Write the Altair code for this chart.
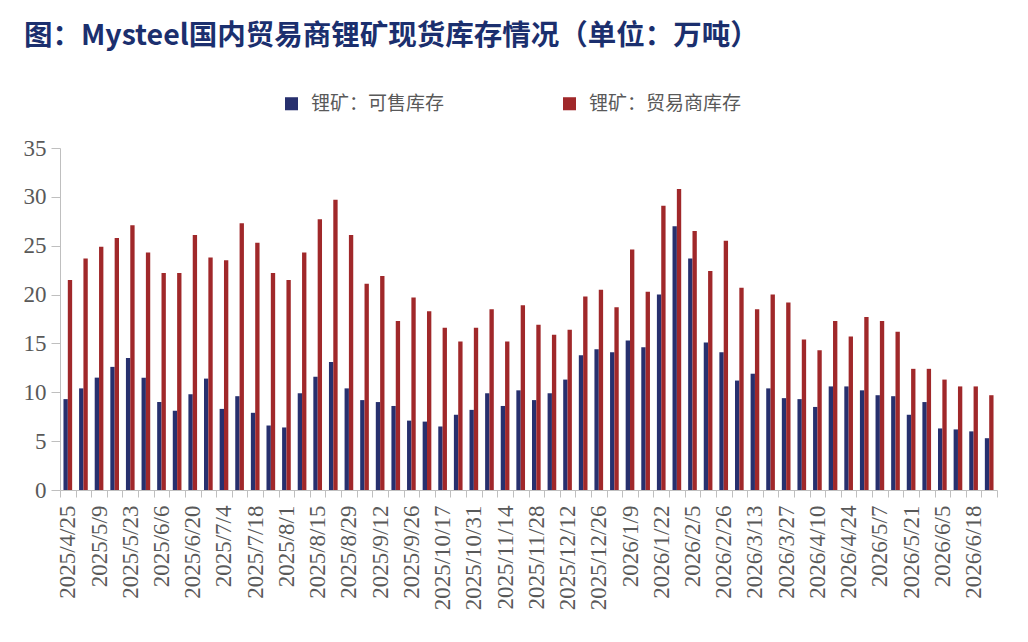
import altair as alt
import pandas as pd

dates = [
    "2025/4/25", "2025/4/30", "2025/5/9", "2025/5/16", "2025/5/23", "2025/5/30",
    "2025/6/6", "2025/6/13", "2025/6/20", "2025/6/27", "2025/7/4", "2025/7/11",
    "2025/7/18", "2025/7/25", "2025/8/1", "2025/8/8", "2025/8/15", "2025/8/22",
    "2025/8/29", "2025/9/5", "2025/9/12", "2025/9/19", "2025/9/26", "2025/10/10",
    "2025/10/17", "2025/10/24", "2025/10/31", "2025/11/7", "2025/11/14", "2025/11/21",
    "2025/11/28", "2025/12/5", "2025/12/12", "2025/12/19", "2025/12/26", "2025/12/31",
    "2026/1/9", "2026/1/16", "2026/1/22", "2026/1/29", "2026/2/5", "2026/2/12",
    "2026/2/26", "2026/3/6", "2026/3/13", "2026/3/20", "2026/3/27", "2026/4/3",
    "2026/4/10", "2026/4/17", "2026/4/24", "2026/4/30", "2026/5/7", "2026/5/14",
    "2026/5/21", "2026/5/28", "2026/6/5", "2026/6/11", "2026/6/18", "2026/6/25",
]

shown_labels = [
    "2025/4/25", "2025/5/9", "2025/5/23", "2025/6/6", "2025/6/20", "2025/7/4",
    "2025/7/18", "2025/8/1", "2025/8/15", "2025/8/29", "2025/9/12", "2025/9/26",
    "2025/10/17", "2025/10/31", "2025/11/14", "2025/11/28", "2025/12/12", "2025/12/26",
    "2026/1/9", "2026/1/22", "2026/2/5", "2026/2/26", "2026/3/13", "2026/3/27",
    "2026/4/10", "2026/4/24", "2026/5/7", "2026/5/21", "2026/6/5", "2026/6/18",
]

available = [
    9.3, 10.4, 11.5, 12.6, 13.5, 11.5, 9.0, 8.1, 9.8, 11.4,
    8.3, 9.6, 7.9, 6.6, 6.4, 9.9, 11.6, 13.1, 10.4, 9.2,
    9.0, 8.6, 7.1, 7.0, 6.5, 7.7, 8.2, 9.9, 8.6, 10.2,
    9.2, 9.9, 11.3, 13.8, 14.4, 14.1, 15.3, 14.6, 20.0, 27.0,
    23.7, 15.1, 14.1, 11.2, 11.9, 10.4, 9.4, 9.3, 8.5, 10.6,
    10.6, 10.2, 9.7, 9.6, 7.7, 9.0, 6.3, 6.2, 6.0, 5.3,
]

trader = [
    21.5, 23.7, 24.9, 25.8, 27.1, 24.3, 22.2, 22.2, 26.1, 23.8,
    23.5, 27.3, 25.3, 22.2, 21.5, 24.3, 27.7, 29.7, 26.1, 21.1,
    21.9, 17.3, 19.7, 18.3, 16.6, 15.2, 16.6, 18.5, 15.2, 18.9,
    16.9, 15.9, 16.4, 19.8, 20.5, 18.7, 24.6, 20.3, 29.1, 30.8,
    26.5, 22.4, 25.5, 20.7, 18.5, 20.0, 19.2, 15.4, 14.3, 17.3,
    15.7, 17.7, 17.3, 16.2, 12.4, 12.4, 11.3, 10.6, 10.6, 9.7,
]

series_names = ["锂矿：可售库存", "锂矿：贸易商库存"]
series_colors = ["#27306e", "#a0282a"]

rows = []
for d, a, t in zip(dates, available, trader):
    rows.append({"date": d, "series": series_names[0], "value": a})
    rows.append({"date": d, "series": series_names[1], "value": t})
df = pd.DataFrame(rows)

label_list = "[" + ",".join("'" + s + "'" for s in shown_labels) + "]"
label_expr = f"indexof({label_list}, datum.value) >= 0 ? datum.value : ''"

grey = "#bfbfbf"
text_grey = "#595959"

chart = (
    alt.Chart(df)
    .mark_bar()
    .encode(
        x=alt.X(
            "date:N",
            sort=dates,
            scale=alt.Scale(paddingInner=0, paddingOuter=0),
            axis=alt.Axis(
                title=None,
                labelExpr=label_expr,
                labelAngle=270,
                labelAlign="right",
                labelBaseline="middle",
                labelFont="Liberation Serif",
                labelFontSize=23,
                labelColor=text_grey,
                labelPadding=8,
                labelOverlap=False,
                tickBand="extent",
                tickColor=grey,
                tickSize=7,
                domainColor=grey,
                grid=False,
            ),
        ),
        xOffset=alt.XOffset(
            "series:N",
            sort=series_names,
            scale=alt.Scale(paddingInner=0, paddingOuter=0.8),
        ),
        y=alt.Y(
            "value:Q",
            scale=alt.Scale(domain=[0, 35], nice=False),
            axis=alt.Axis(
                title=None,
                values=[0, 5, 10, 15, 20, 25, 30, 35],
                labelFont="Liberation Serif",
                labelFontSize=23,
                labelColor=text_grey,
                labelPadding=5,
                tickColor=grey,
                tickSize=9,
                domainColor=grey,
                grid=False,
            ),
        ),
        color=alt.Color(
            "series:N",
            sort=series_names,
            scale=alt.Scale(domain=series_names, range=series_colors),
            legend=alt.Legend(
                title=None,
                orient="none",
                legendX=222,
                legendY=-54,
                direction="horizontal",
                symbolType="square",
                symbolSize=170,
                symbolStrokeWidth=0,
                labelFont="Noto Sans CJK SC",
                labelFontSize=19,
                labelColor=text_grey,
                labelOffset=10,
                columnPadding=115,
                padding=0,
            ),
        ),
    )
    .properties(
        width=937,
        height=342,
        autosize=alt.AutoSizeParams(type="none"),
        padding={"left": 52, "top": 140, "right": 20, "bottom": 144},
        title=alt.TitleParams(
            text="图：Mysteel国内贸易商锂矿现货库存情况（单位：万吨）",
            font="Noto Sans CJK SC",
            fontSize=28.5,
            fontWeight="bold",
            color="#1b2f6e",
            anchor="start",
            frame="group",
            dx=-36,
            offset=44,
        ),
    )
    .configure_view(stroke=None)
)

chart.save("out.html", embed_options={"renderer": "svg", "actions": False})
